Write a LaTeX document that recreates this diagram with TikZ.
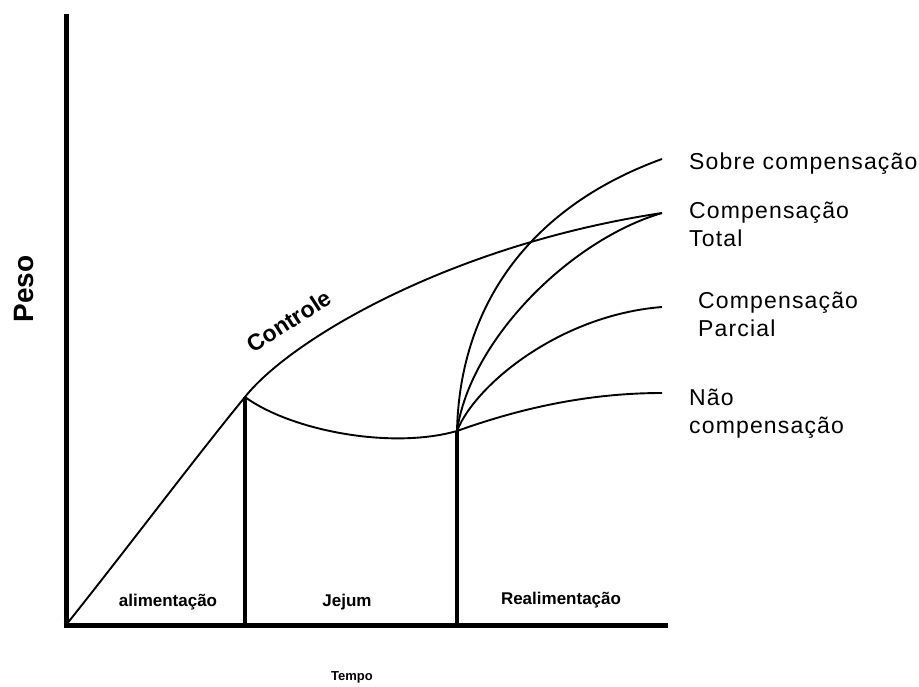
\documentclass[tikz,border=0pt]{standalone}
\usepackage{fontspec}
\setmainfont{Liberation Sans}
\newfontfamily\spacedfont[LetterSpace=5]{Liberation Sans}
\begin{document}
\begin{tikzpicture}[x=1bp,y=-1bp,
  axis/.style={line width=5bp,line cap=butt},
  divider/.style={line width=4bp},
  curve/.style={line width=1.9bp,line join=round},
  rlabel/.style={anchor=base west,inner sep=0pt,font=\spacedfont\fontsize{23bp}{27bp}\selectfont},
  phase/.style={anchor=center,inner sep=0pt,font=\bfseries\fontsize{17bp}{20bp}\selectfont}]
\useasboundingbox (0,0) rectangle (919,687);
% key points
\coordinate (O) at (66,625);
\coordinate (ytop) at (66,14);
\coordinate (xend) at (668,625);
\coordinate (p1) at (245,397);
\coordinate (p2) at (457,431);
\coordinate (b1) at (245,627);
\coordinate (b2) at (457,627);
\coordinate (eS) at (662,159);
\coordinate (eT) at (662,213);
\coordinate (eP) at (662,307);
\coordinate (eN) at (662,393);
% axes
\draw[axis] (ytop) -- (66,627.5);
\draw[axis] (63.5,625) -- (xend);
% phase dividers
\draw[divider] (p1) -- (b1);
\draw[divider] (p2) -- (b2);
% control curve
\draw[curve] (O) .. controls (126,550) and (195,458) .. (p1)
             .. controls (290,340) and (450,245) .. (eT);
% fasting curve
\draw[curve] (p1) .. controls (290,430) and (390,450) .. (p2);
% refeeding curves
\draw[curve] (p2) .. controls (460,300) and (535,205) .. (eS);
\draw[curve] (p2) .. controls (470,340) and (570,240) .. (eT);
\draw[curve] (p2) .. controls (475,385) and (560,315) .. (eP);
\draw[curve] (p2) .. controls (510,412) and (580,393) .. (eN);
% labels
\node[rlabel] (sobre) at (689,170) {Sobre compensação};
\node[rlabel] (tot1) at (689,218) {Compensação};
\node[rlabel] (tot2) at (689,246) {Total};
\node[rlabel] (par1) at (698,308) {Compensação};
\node[rlabel] (par2) at (698,336) {Parcial};
\node[rlabel] (nao1) at (689,405) {Não};
\node[rlabel] (nao2) at (689,433) {compensação};
\node[inner sep=0pt,rotate=33,font=\bfseries\fontsize{23bp}{26bp}\selectfont] (ctrl) at (289,321) {Controle};
\node[inner sep=0pt,rotate=90,font=\bfseries\fontsize{28bp}{32bp}\selectfont] (peso) at (24,289) {Peso};
\node[phase] (ali) at (168,602) {alimentação};
\node[phase] (jej) at (347,602) {Jejum};
\node[phase] (rea) at (561,600) {Realimentação};
\node[inner sep=0pt,font=\bfseries\fontsize{13bp}{16bp}\selectfont] (tempo) at (352,677) {Tempo};
\end{tikzpicture}
\end{document}
